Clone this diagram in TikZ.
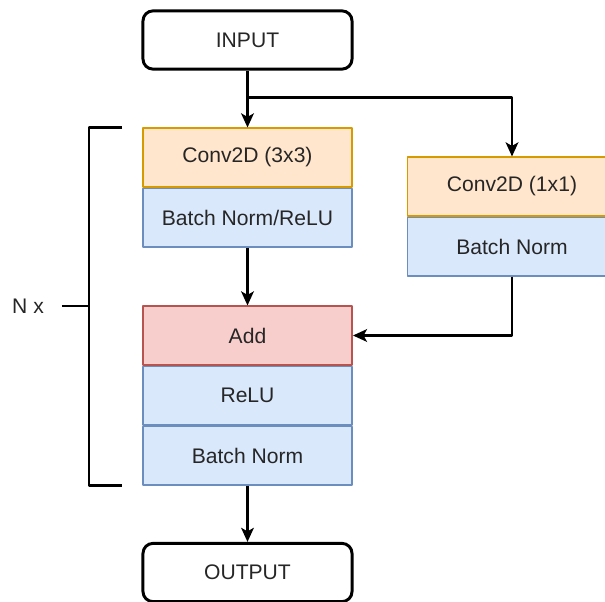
\documentclass[tikz,border=0pt]{standalone}
\usepackage{fontspec}
\setmainfont{Liberation Sans}
\usetikzlibrary{positioning,arrows.meta,calc}
\definecolor{convfill}{HTML}{FFE6CC}
\definecolor{convline}{HTML}{D79B00}
\definecolor{normfill}{HTML}{DAE8FC}
\definecolor{normline}{HTML}{6C8EBF}
\definecolor{addfill}{HTML}{F8CECC}
\definecolor{addline}{HTML}{B85450}

\tikzset{
  layer/.style={rectangle, minimum width=5.225cm, minimum height=1.455cm,
    inner sep=0pt, line width=1.3pt, font=\fontsize{15}{17}\selectfont, text=black!85},
  conv/.style={layer, draw=convline, fill=convfill},
  norm/.style={layer, draw=normline, fill=normfill},
  addbox/.style={layer, draw=addline, fill=addfill},
  io/.style={layer, draw=black, fill=white, rounded corners=0.25cm, line width=2.1pt},
  arr/.style={-{Stealth[length=10pt,width=9pt,inset=2.5pt]}, line width=1.8pt},
  bracket/.style={line width=1.9pt}
}

\begin{document}
\begin{tikzpicture}[x=0.025cm, y=-0.025cm, line join=round]
    \useasboundingbox (0,0) rectangle (605,602);
    \clip (0,0) rectangle (605,602);

    % main block
    \node[io] (input) at (247.5,40) {INPUT};
    \node[conv] (conv3) at (247.5,157.5) {Conv2D (3x3)};
    \node[norm, below=0pt of conv3] (bnr) {Batch Norm/ReLU};

    \node[addbox] (add) at (247.5,335.5) {Add};
    \node[norm, below=0pt of add] (relu) {ReLU};
    \node[norm, below=0pt of relu] (bn) {Batch Norm};

    \node[io] (output) at (247.5,572.5) {OUTPUT};

    % shortcut branch
    \node[conv] (conv1) at (512,186.5) {Conv2D (1x1)};
    \node[norm, below=0pt of conv1] (bn1) {Batch Norm};

    % connections
    \path (input.south) -- coordinate[pos=0.47] (split) (conv3.north);
    \draw[arr] (input) -- (conv3);
    \draw[arr] (split) -| (conv1);
    \draw[arr] (bnr) -- (add);
    \draw[arr] (bn1.south) |- (add.east);
    \draw[arr] (bn) -- (output);

    % repeat bracket
    \coordinate (btop) at ($(conv3.north west)+(-20,0)$);
    \coordinate (bbot) at ($(bn.south west)+(-20,0)$);
    \node[font=\fontsize{15}{17}\selectfont, text=black!85] (nx) at (28,306) {N x};
    \draw[bracket] (btop) -- ++(-33,0) |- (bbot);
    \draw[bracket] ($(nx.east)+(13,0)$) -- (90,306);
\end{tikzpicture}
\end{document}
